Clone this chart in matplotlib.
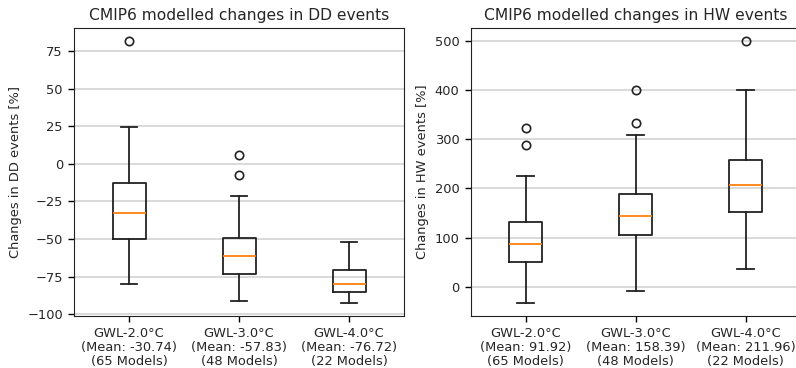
import matplotlib
matplotlib.use("Agg")
import matplotlib.pyplot as plt

categories = ["GWL-2.0°C", "GWL-3.0°C", "GWL-4.0°C"]
n_models = [65, 48, 22]

dd_means = [-30.74, -57.83, -76.72]
dd_q1 = [-49.8, -73.0, -84.9]
dd_med = [-33.0, -61.3, -79.6]
dd_q3 = [-12.5, -49.6, -70.3]
dd_whislo = [-79.8, -91.3, -92.4]
dd_whishi = [24.4, -21.7, -51.8]
dd_fliers = [[81.4], [5.7, -7.4], []]

hw_means = [91.92, 158.39, 211.96]
hw_q1 = [49.4, 105.7, 151.8]
hw_med = [87.4, 142.9, 207.3]
hw_q3 = [130.7, 189.0, 257.5]
hw_whislo = [-33.1, -9.5, 36.0]
hw_whishi = [225.0, 309.0, 400.4]
hw_fliers = [[322.5, 288.6], [400.4, 333.3], [500.0]]


def stats(q1, med, q3, lo, hi, fl):
    return [dict(q1=a, med=b, q3=c, whislo=d, whishi=e, fliers=f)
            for a, b, c, d, e, f in zip(q1, med, q3, lo, hi, fl)]


def labels(means):
    return [f"{c}\n(Mean: {m:.2f})\n({n} Models)" for c, m, n in zip(categories, means, n_models)]


W, H = 796, 368
fig = plt.figure(figsize=(W / 100, H / 100), dpi=100)
ax1 = fig.add_axes([74 / W, 1 - 316 / H, 330 / W, 288 / H])
ax2 = fig.add_axes([470.7 / W, 1 - 316 / H, 330 / W, 288 / H])

fs = 9.4
tc = "#262626"
for ax, st, means, title, ylabel in [
    (ax1, stats(dd_q1, dd_med, dd_q3, dd_whislo, dd_whishi, dd_fliers), dd_means,
     "CMIP6 modelled changes in DD events", "Changes in DD events [%]"),
    (ax2, stats(hw_q1, hw_med, hw_q3, hw_whislo, hw_whishi, hw_fliers), hw_means,
     "CMIP6 modelled changes in HW events", "Changes in HW events [%]"),
]:
    ax.bxp(st, positions=[1, 2, 3], widths=0.3, showfliers=True,
           boxprops=dict(color="#222222", linewidth=1.3),
           whiskerprops=dict(color="#222222", linewidth=1.3),
           capprops=dict(color="#222222", linewidth=1.3),
           medianprops=dict(color="#ff7f0e", linewidth=1.3),
           flierprops=dict(marker="o", markerfacecolor="none", markeredgecolor="#222222",
                           markersize=6, markeredgewidth=1.2))
    ax.set_xlim(0.5, 3.5)
    ax.set_xticks([1, 2, 3])
    ax.set_xticklabels(labels(means), fontsize=fs, linespacing=1.1, color=tc)
    ax.tick_params(axis="both", labelsize=fs, length=4.5, width=1.0, labelcolor=tc)
    ax.set_title(title, fontsize=11.2, color=tc)
    ax.set_ylabel(ylabel, fontsize=fs, color=tc)
    ax.yaxis.grid(True, color="#d0d0d0", linewidth=1.1)
    ax.set_axisbelow(True)
    for sp in ax.spines.values():
        sp.set_color("#222222")

ax1.set_ylim(-101.1, 90.2)
ax1.set_yticks([-100, -75, -50, -25, 0, 25, 50, 75])
ax2.set_ylim(-59.8, 526.7)
ax2.set_yticks([0, 100, 200, 300, 400, 500])

fig.savefig("out.png", dpi=100)
